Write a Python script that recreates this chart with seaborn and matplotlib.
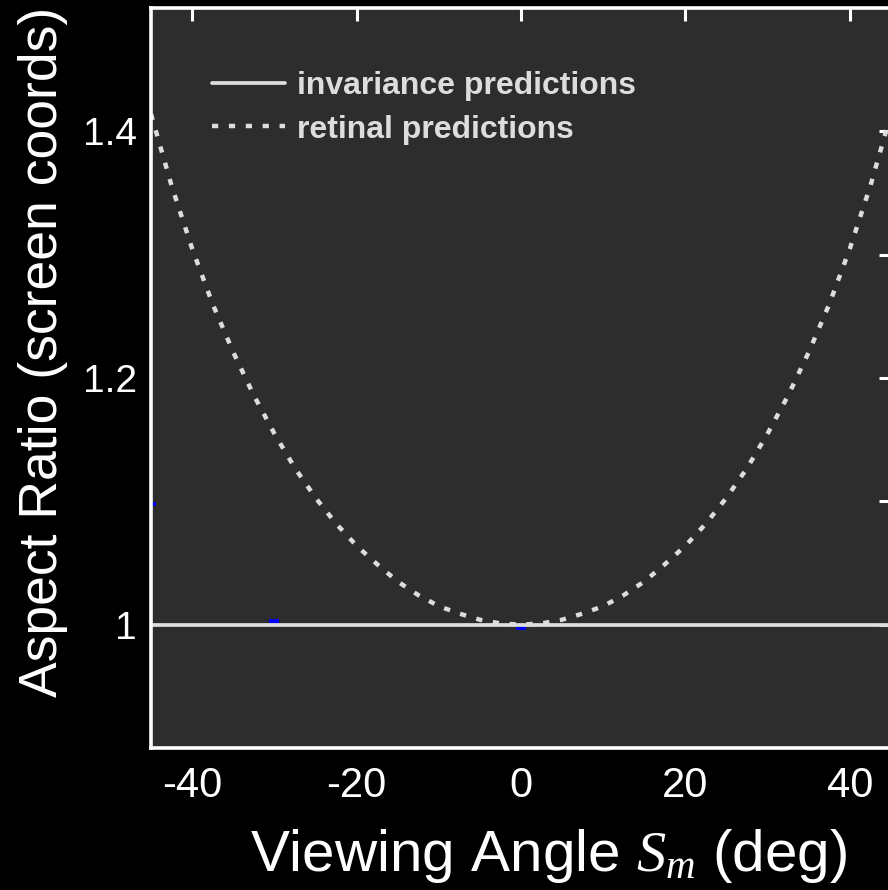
import matplotlib
matplotlib.use("Agg")

import matplotlib.pyplot as plt
import seaborn as sns
from matplotlib.lines import Line2D
from matplotlib.ticker import FixedLocator

# viewing angle (deg) and the two model predictions
angles = [-45, -42.5, -40, -37.5, -35, -32.5, -30, -27.5, -25, -22.5, -20,
          -17.5, -15, -12.5, -10, -7.5, -5, -2.5, 0, 2.5, 5, 7.5, 10, 12.5,
          15, 17.5, 20, 22.5, 25, 27.5, 30, 32.5, 35, 37.5, 40, 42.5, 45]
retinal = [1.414, 1.356, 1.305, 1.260, 1.221, 1.186, 1.155, 1.127, 1.103,
           1.082, 1.064, 1.049, 1.035, 1.024, 1.015, 1.009, 1.004, 1.001,
           1.000, 1.001, 1.004, 1.009, 1.015, 1.024, 1.035, 1.049, 1.064,
           1.082, 1.103, 1.127, 1.155, 1.186, 1.221, 1.260, 1.305, 1.356,
           1.414]
invariance = [1.0] * len(angles)

# observed points (mostly hidden behind the prediction lines)
obs_angle = [-45, -30, 0]
obs_ratio = [1.098, 1.003, 0.9976]

x_ticks = [-40, -20, 0, 20, 40]
y_major = [1.0, 1.2, 1.4]
y_minor = [1.1, 1.3]
y_labels = ["1", "1.2", "1.4"]

LINE = "#dddddd"
BG = "#2d2d2d"

sns.set_style("dark")
plt.rcParams["font.family"] = ["Liberation Sans", "DejaVu Sans"]
plt.rcParams["mathtext.fontset"] = "custom"
plt.rcParams["mathtext.it"] = "Liberation Serif:italic"
plt.rcParams["mathtext.rm"] = "Liberation Sans"

fig = plt.figure(figsize=(8.88, 8.9), dpi=100, facecolor="black")
ax = fig.add_axes([151 / 888, 142 / 890, 740 / 888, 740 / 890])
ax.set_facecolor(BG)

sns.lineplot(x=obs_angle, y=obs_ratio, ax=ax, color="blue", marker="_",
             markersize=6.5, markeredgewidth=2.8, markeredgecolor="blue",
             linestyle="none", zorder=1)
sns.lineplot(x=angles, y=invariance, ax=ax, color=LINE, linewidth=2.7,
             zorder=2)
sns.lineplot(x=angles, y=retinal, ax=ax, color=LINE, linewidth=3.2,
             linestyle=(0, (1.4, 2.4)), zorder=2)

ax.set_xlim(-45, 45)
ax.set_ylim(0.9, 1.5)
ax.set_xticks(x_ticks)
ax.set_xticklabels([str(t) for t in x_ticks])
ax.set_yticks(y_major)
ax.set_yticklabels(y_labels)
ax.yaxis.set_minor_locator(FixedLocator(y_minor))
ax.grid(False)

for side in ["left", "top", "bottom", "right"]:
    ax.spines[side].set_visible(True)
    ax.spines[side].set_color("white")
    ax.spines[side].set_linewidth(2.6)

ax.tick_params(axis="both", which="both", direction="in", colors="white",
               length=9, width=2.2, top=True, right=True, labelsize=30)
ax.tick_params(axis="x", which="major", pad=13)
ax.tick_params(axis="y", which="major", labelsize=28, pad=10)
ax.tick_params(axis="both", which="minor", labelsize=0)
for lab in ax.get_xticklabels() + ax.get_yticklabels():
    lab.set_color("white")

ax.set_xlabel(r"Viewing Angle $S_m$ (deg)", color="white", fontsize=42)
ax.set_ylabel("Aspect Ratio (screen coords)", color="white", fontsize=38.5)
ax.xaxis.set_label_coords(0.537, -0.107)
ax.yaxis.set_label_coords(-0.112, 0.535)

handles = [
    Line2D([], [], color=LINE, linewidth=2.7),
    Line2D([], [], color=LINE, linewidth=3.2, linestyle=(0, (1.4, 2.4))),
]
leg = ax.legend(handles, ["invariance predictions", "retinal predictions"],
                loc="upper left", bbox_to_anchor=(0.082, 0.915),
                frameon=False, borderaxespad=0, borderpad=0,
                handlelength=2.3, handletextpad=0.38, labelspacing=0.43,
                prop={"family": "Liberation Sans", "weight": "bold",
                      "size": 23})
for txt in leg.get_texts():
    txt.set_color(LINE)

fig.savefig("out.png", dpi=100, facecolor="black")
